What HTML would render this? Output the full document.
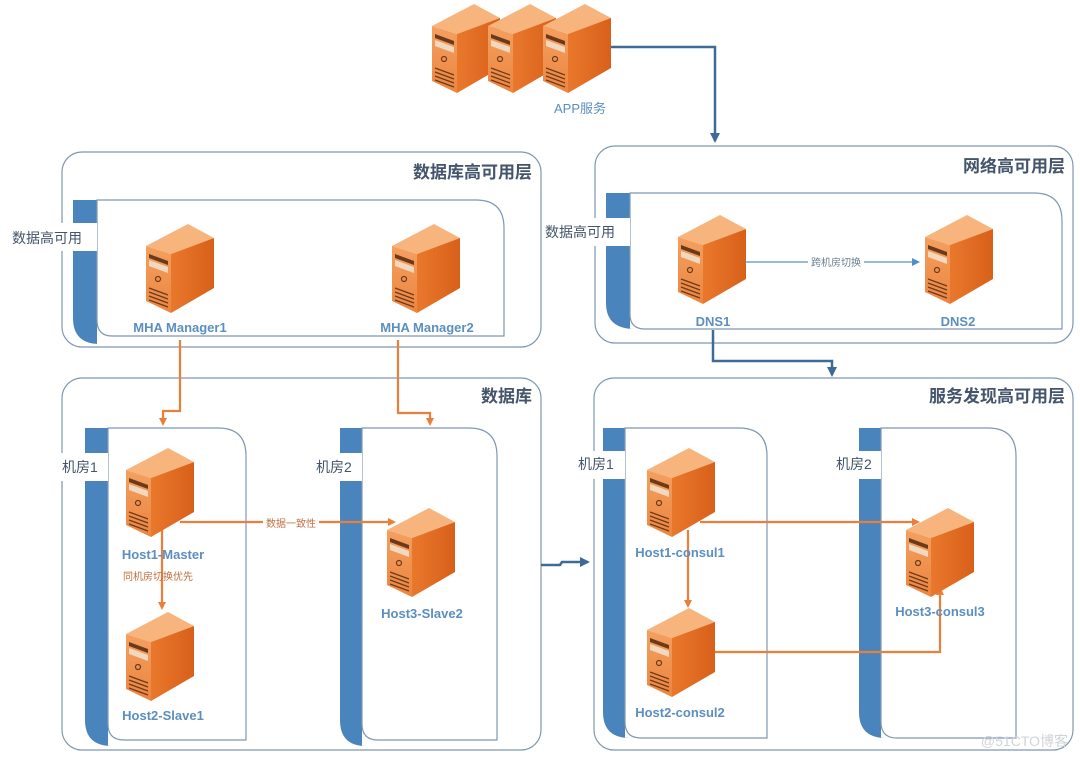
<!DOCTYPE html>
<html><head><meta charset="utf-8"><style>
html,body{margin:0;padding:0;background:#fff;}
svg{display:block;font-family:"Liberation Sans","Noto Sans CJK SC",sans-serif;}
</style></head><body>
<svg width="1080" height="759" viewBox="0 0 1080 759" xmlns="http://www.w3.org/2000/svg">
<defs>
<linearGradient id="gs" x1="0" y1="0" x2="1" y2="0"><stop offset="0" stop-color="#e9782c"/><stop offset="1" stop-color="#d8601a"/></linearGradient>
<linearGradient id="gf" x1="0" y1="0" x2="0" y2="1"><stop offset="0" stop-color="#f4a060"/><stop offset="1" stop-color="#ec8540"/></linearGradient>
<g id="srv">
<polygon points="0,22 42,0 68,14 25,30" fill="#f7b47c"/>
<polygon points="0,22 25,30 25,89 0,77" fill="url(#gf)"/>
<polygon points="25,30 68,14 68,64 25,89" fill="url(#gs)"/>
<polygon points="3,30 22,37 22,41 3,34" fill="#6b3a1a"/>
<polygon points="3,36 22,43 22,49 3,42" fill="#f3d8c0"/>
<circle cx="12" cy="55" r="2.5" fill="none" stroke="#6b3a1a" stroke-width="1.2"/>
<path d="M3,64 L22,71 M3,68 L22,75 M3,72 L22,79 M3,76 L22,83" stroke="#6b3a1a" stroke-width="1.2"/>
</g>
<marker id="ao" markerWidth="8" markerHeight="8" refX="6" refY="4" orient="auto" markerUnits="userSpaceOnUse"><path d="M0,0 L8,4 L0,8 z" fill="#e97f3a"/></marker>
<marker id="ab" markerWidth="10" markerHeight="10" refX="8" refY="5" orient="auto" markerUnits="userSpaceOnUse"><path d="M0,0 L10,5 L0,10 z" fill="#3d6a96"/></marker>
<marker id="ab2" markerWidth="8" markerHeight="8" refX="6" refY="4" orient="auto" markerUnits="userSpaceOnUse"><path d="M0,0 L8,4 L0,8 z" fill="#4f8fc8"/></marker>
</defs>

<use href="#srv" x="432" y="4"/>
<use href="#srv" x="488" y="4"/>
<use href="#srv" x="543" y="4"/>
<text x="580" y="113" font-size="13" fill="#5b8fc0" text-anchor="middle">APP服务</text>
<path d="M611,47 L715,47 L715,141" fill="none" stroke="#3d6a96" stroke-width="2.5" marker-end="url(#ab)"/>

<rect x="62" y="152" width="479" height="195" rx="20" fill="#fff" stroke="#7f98b2" stroke-width="1.2"/>
<text x="532" y="178" font-size="17" font-weight="bold" fill="#44546a" text-anchor="end">数据库高可用层</text>
<path d="M73,200 L97,200 L97,344 L100,344 Q73,344 73,318 Z" fill="#4a84bd"/>
<path d="M97,200 L476,200 Q504,200 504,228 L504,336 L112,336 Q97,336 97,320 Z" fill="#fff" stroke="#7f98b2" stroke-width="1.2"/>
<rect x="10" y="223" width="87" height="28" fill="#fff"/>
<text x="12" y="243" font-size="14" fill="#44546a">数据高可用</text>
<use href="#srv" x="146" y="224"/>
<use href="#srv" x="392" y="224"/>
<text x="180" y="332" font-size="13" font-weight="bold" fill="#5b8fc0" text-anchor="middle">MHA Manager1</text>
<text x="427" y="332" font-size="13" font-weight="bold" fill="#5b8fc0" text-anchor="middle">MHA Manager2</text>

<rect x="595" y="146" width="478" height="197" rx="20" fill="#fff" stroke="#7f98b2" stroke-width="1.2"/>
<text x="1065" y="172" font-size="17" font-weight="bold" fill="#44546a" text-anchor="end">网络高可用层</text>
<path d="M606,193 L630,193 L630,329 L635,329 Q606,329 606,303 Z" fill="#4a84bd"/>
<path d="M630,193 L1034,193 Q1062,193 1062,221 L1062,329 L645,329 Q630,329 630,314 Z" fill="#fff" stroke="#7f98b2" stroke-width="1.2"/>
<rect x="543" y="218" width="87" height="28" fill="#fff"/>
<text x="545" y="237" font-size="14" fill="#44546a">数据高可用</text>
<use href="#srv" x="678" y="215"/>
<use href="#srv" x="925" y="215"/>
<path d="M745,262 L918,262" stroke="#5b8fc0" stroke-width="1.2" marker-end="url(#ab2)"/>
<rect x="808" y="254" width="56" height="14" fill="#fff"/>
<text x="836" y="266" font-size="10" fill="#6a7f94" text-anchor="middle">跨机房切换</text>
<text x="713" y="326" font-size="13" font-weight="bold" fill="#5b8fc0" text-anchor="middle">DNS1</text>
<text x="958" y="326" font-size="13" font-weight="bold" fill="#5b8fc0" text-anchor="middle">DNS2</text>
<path d="M713,330 L713,361 L832,361 L832,375" fill="none" stroke="#3d6a96" stroke-width="2.5" marker-end="url(#ab)"/>

<rect x="62" y="378" width="479" height="372" rx="20" fill="#fff" stroke="#7f98b2" stroke-width="1.2"/>
<text x="532" y="402" font-size="17" font-weight="bold" fill="#44546a" text-anchor="end">数据库</text>
<path d="M85,428 L108,428 L108,746 L112,746 Q85,746 85,720 Z" fill="#4a84bd"/>
<path d="M108,428 L218,428 Q246,428 246,456 L246,740 L124,740 Q108,740 108,724 Z" fill="#fff" stroke="#7f98b2" stroke-width="1.2"/>
<rect x="60" y="453" width="48" height="28" fill="#fff"/>
<text x="62" y="472" font-size="14" fill="#44546a">机房1</text>
<path d="M340,428 L362,428 L362,746 L366,746 Q340,746 340,720 Z" fill="#4a84bd"/>
<path d="M362,428 L469,428 Q497,428 497,456 L497,740 L378,740 Q362,740 362,724 Z" fill="#fff" stroke="#7f98b2" stroke-width="1.2"/>
<rect x="314" y="453" width="48" height="28" fill="#fff"/>
<text x="316" y="472" font-size="14" fill="#44546a">机房2</text>

<rect x="594" y="378" width="479" height="372" rx="20" fill="#fff" stroke="#7f98b2" stroke-width="1.2"/>
<text x="1065" y="402" font-size="17" font-weight="bold" fill="#44546a" text-anchor="end">服务发现高可用层</text>
<path d="M603,428 L625,428 L625,738 L630,738 Q603,738 603,712 Z" fill="#4a84bd"/>
<path d="M625,428 L739,428 Q767,428 767,456 L767,738 L641,738 Q625,738 625,722 Z" fill="#fff" stroke="#7f98b2" stroke-width="1.2"/>
<rect x="576" y="451" width="49" height="28" fill="#fff"/>
<text x="578" y="469" font-size="14" fill="#44546a">机房1</text>
<path d="M859,428 L881,428 L881,738 L886,738 Q859,738 859,712 Z" fill="#4a84bd"/>
<path d="M881,428 L988,428 Q1016,428 1016,456 L1016,738 L897,738 Q881,738 881,722 Z" fill="#fff" stroke="#7f98b2" stroke-width="1.2"/>
<rect x="834" y="451" width="47" height="28" fill="#fff"/>
<text x="836" y="469" font-size="14" fill="#44546a">机房2</text>

<path d="M541,565 L560,565 L562,562 L588,562" fill="none" stroke="#3d6a96" stroke-width="2.5" marker-end="url(#ab)"/>

<g fill="none" stroke="#e97f3a" stroke-width="2.2">
<path d="M180,340 L180,411 L163,411 L163,424" marker-end="url(#ao)"/>
<path d="M398,340 L398,413 L430,413 L430,424" marker-end="url(#ao)"/>
<path d="M180,522 L394,522" marker-end="url(#ao)"/>
<path d="M162,530 L162,608" marker-end="url(#ao)"/>
<path d="M700,522 L918,522" marker-end="url(#ao)"/>
<path d="M688,530 L688,606" marker-end="url(#ao)"/>
<path d="M712,652 L940,652 L940,589" marker-end="url(#ao)"/>
</g>

<use href="#srv" x="126" y="448"/>
<use href="#srv" x="126" y="612"/>
<use href="#srv" x="387" y="508"/>
<use href="#srv" x="647" y="448"/>
<use href="#srv" x="647" y="608"/>
<use href="#srv" x="906" y="508"/>

<rect x="263" y="515" width="56" height="14" fill="#fff"/>
<text x="291" y="527" font-size="10" fill="#c07040" text-anchor="middle">数据一致性</text>
<text x="158" y="580" font-size="10" fill="#c07040" text-anchor="middle">同机房切换优先</text>

<text x="163" y="559" font-size="13" font-weight="bold" fill="#5b8fc0" text-anchor="middle">Host1-Master</text>
<text x="163" y="720" font-size="13" font-weight="bold" fill="#5b8fc0" text-anchor="middle">Host2-Slave1</text>
<text x="422" y="618" font-size="13" font-weight="bold" fill="#5b8fc0" text-anchor="middle">Host3-Slave2</text>
<text x="680" y="557" font-size="13" font-weight="bold" fill="#5b8fc0" text-anchor="middle">Host1-consul1</text>
<text x="680" y="717" font-size="13" font-weight="bold" fill="#5b8fc0" text-anchor="middle">Host2-consul2</text>
<text x="940" y="616" font-size="13" font-weight="bold" fill="#5b8fc0" text-anchor="middle">Host3-consul3</text>

<text x="1068" y="746" font-size="14" fill="#d0d4d8" text-anchor="end">@51CTO博客</text>
</svg>
</body></html>
